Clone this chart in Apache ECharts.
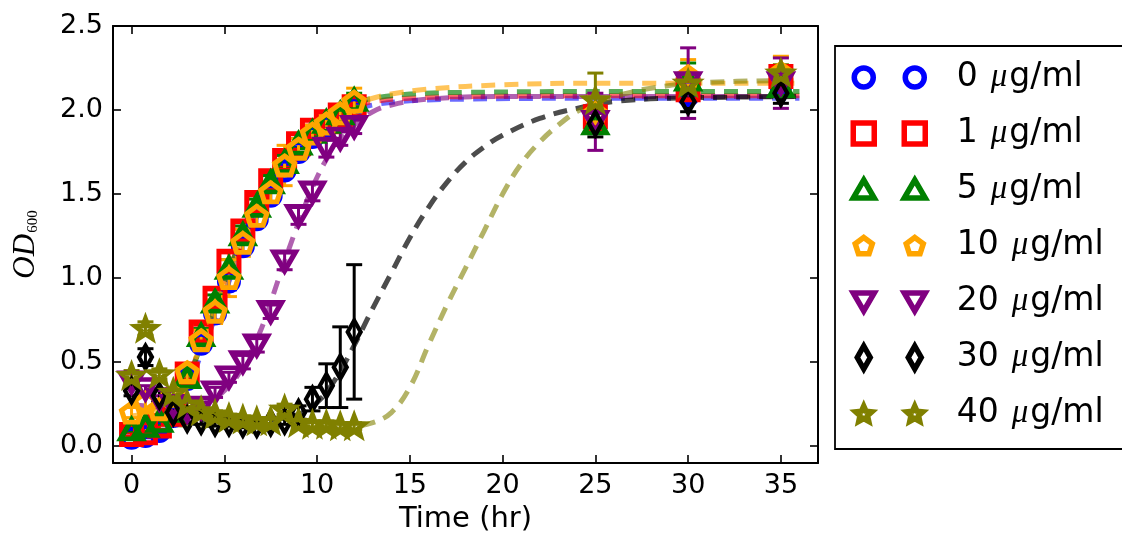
<!DOCTYPE html>
<html>
<head>
<meta charset="utf-8">
<script src="https://cdn.jsdelivr.net/npm/echarts@6/dist/echarts.min.js"></script>
<style>
  html, body { margin: 0; padding: 0; background: #ffffff; overflow: hidden; }
  #chart { width: 1122px; height: 543px; }
</style>
</head>
<body>
<div id="chart"></div>
<script>
// Growth curves (OD600) at increasing drug concentrations, with sigmoid fits.
const concentrations = ['0', '1', '5', '10', '20', '30', '40'];
const times = [0, 0.75, 1.5, 2.25, 3, 3.75, 4.5, 5.25, 6, 6.75, 7.5, 8.25, 9, 9.75, 10.5, 11.25, 12, 25, 30, 35];

const od0  = [0.05, 0.06, 0.09, 0.18, 0.40, 0.61, 0.79, 0.98, 1.19, 1.35, 1.49, 1.64, 1.75, 1.84, 1.90, 1.96, 2.01, 1.97, 2.09, 2.15];
const od1  = [0.07, 0.08, 0.12, 0.19, 0.43, 0.68, 0.88, 1.10, 1.28, 1.45, 1.58, 1.70, 1.80, 1.88, 1.93, 1.97, 2.02, 1.96, 2.12, 2.20];
const od5  = [0.10, 0.12, 0.15, 0.21, 0.41, 0.66, 0.86, 1.06, 1.26, 1.43, 1.57, 1.69, 1.80, 1.87, 1.93, 1.98, 2.06, 1.92, 2.18, 2.14];
const od10 = [0.20, 0.26, 0.22, 0.30, 0.44, 0.63, 0.80, 1.00, 1.21, 1.37, 1.51, 1.67, 1.77, 1.86, 1.92, 1.98, 2.05, 1.98, 2.20, 2.22];
const od20 = [0.38, 0.34, 0.28, 0.24, 0.21, 0.23, 0.32, 0.41, 0.50, 0.60, 0.80, 1.10, 1.37, 1.51, 1.77, 1.83, 1.90, 1.93, 2.16, 2.16];
const od30 = [0.33, 0.53, 0.30, 0.20, 0.16, 0.15, 0.14, 0.14, 0.13, 0.13, 0.14, 0.15, 0.20, 0.28, 0.36, 0.47, 0.68, 1.92, 2.05, 2.10];
const od40 = [0.42, 0.70, 0.43, 0.32, 0.25, 0.21, 0.19, 0.17, 0.16, 0.15, 0.15, 0.22, 0.14, 0.13, 0.13, 0.12, 0.12, 2.06, 2.16, 2.22];

const err0  = [0.01, 0.01, 0.01, 0.02, 0.03, 0.04, 0.04, 0.05, 0.04, 0.04, 0.04, 0.03, 0.03, 0.03, 0.03, 0.03, 0.03, 0.05, 0.04, 0.04];
const err1  = [0.01, 0.01, 0.02, 0.02, 0.03, 0.04, 0.05, 0.05, 0.05, 0.04, 0.04, 0.04, 0.03, 0.03, 0.03, 0.03, 0.03, 0.08, 0.06, 0.05];
const err5  = [0.01, 0.01, 0.02, 0.02, 0.03, 0.04, 0.04, 0.05, 0.05, 0.04, 0.04, 0.04, 0.03, 0.03, 0.03, 0.03, 0.04, 0.06, 0.10, 0.05];
const err10 = [0.03, 0.04, 0.03, 0.04, 0.05, 0.06, 0.07, 0.11, 0.08, 0.06, 0.06, 0.12, 0.06, 0.05, 0.05, 0.04, 0.08, 0.05, 0.10, 0.10];
const err20 = [0.02, 0.02, 0.02, 0.02, 0.02, 0.03, 0.03, 0.03, 0.04, 0.04, 0.04, 0.05, 0.05, 0.05, 0.05, 0.04, 0.04, 0.17, 0.21, 0.15];
const err30 = [0.03, 0.05, 0.03, 0.02, 0.02, 0.02, 0.02, 0.02, 0.02, 0.02, 0.02, 0.02, 0.04, 0.07, 0.13, 0.24, 0.40, 0.08, 0.06, 0.06];
const err40 = [0.03, 0.04, 0.03, 0.02, 0.02, 0.02, 0.02, 0.02, 0.02, 0.02, 0.02, 0.03, 0.02, 0.02, 0.02, 0.02, 0.02, 0.16, 0.05, 0.05];

// fitted curves, [time, OD] pairs
const fit0  = [[0,0.08],[1,0.10],[2,0.18],[3,0.35],[4,0.62],[5,0.91],[6,1.18],[7,1.42],[8,1.62],[9,1.77],[10,1.88],[11,1.95],[12,2.00],[13,2.03],[15,2.055],[18,2.065],[25,2.07],[36,2.07]];
const fit1  = [[0,0.08],[1,0.11],[2,0.20],[3,0.40],[4,0.68],[5,0.98],[6,1.25],[7,1.48],[8,1.66],[9,1.80],[10,1.90],[11,1.97],[12,2.02],[13,2.05],[15,2.07],[18,2.08],[25,2.085],[36,2.085]];
const fit5  = [[0,0.10],[1,0.13],[2,0.21],[3,0.40],[4,0.67],[5,0.97],[6,1.25],[7,1.48],[8,1.67],[9,1.81],[10,1.92],[11,1.99],[12,2.04],[13,2.07],[15,2.095],[18,2.105],[25,2.11],[36,2.11]];
const fit10 = [[0,0.18],[1,0.20],[2,0.25],[3,0.42],[4,0.67],[5,0.95],[6,1.21],[7,1.44],[8,1.63],[9,1.78],[10,1.90],[11,1.98],[12,2.03],[13,2.07],[14,2.095],[16,2.125],[20,2.15],[25,2.16],[36,2.16]];
const fit20 = [[0,0.25],[2,0.23],[3,0.23],[4,0.26],[5,0.33],[6,0.47],[7,0.70],[8,1.02],[9,1.33],[10,1.60],[11,1.79],[12,1.91],[13,1.99],[14,2.03],[16,2.065],[20,2.08],[36,2.08]];
const fit30 = [[0,0.14],[4,0.14],[7,0.15],[9,0.19],[10,0.26],[11,0.40],[12,0.60],[13,0.82],[14,1.03],[15,1.24],[16,1.42],[17,1.57],[18,1.69],[19,1.78],[20,1.85],[22,1.95],[24,2.01],[26,2.05],[29,2.07],[36,2.08]];
const fit40 = [[0,0.13],[6,0.12],[10,0.115],[12,0.12],[13,0.14],[14,0.20],[15,0.35],[16,0.60],[17,0.84],[18,1.06],[19,1.28],[20,1.50],[21,1.68],[22,1.81],[23,1.91],[24,1.99],[25,2.04],[26,2.08],[28,2.13],[31,2.165],[36,2.175]];

const xTicks = [0, 5, 10, 15, 20, 25, 30, 35];
const yTicks = [0, 0.5, 1.0, 1.5, 2.0, 2.5];

const odSets  = [od0, od1, od5, od10, od20, od30, od40];
const errSets = [err0, err1, err5, err10, err20, err30, err40];
const fitSets = [fit0, fit1, fit5, fit10, fit20, fit30, fit40];

const markerColors = ['#0000ff', '#ff0000', '#008000', '#ffa500', '#800080', '#000000', '#808000'];
const fitColors = ['rgba(0,0,255,0.58)', 'rgba(255,0,0,0.58)', 'rgba(0,128,0,0.65)', 'rgba(255,165,0,0.65)',
                   'rgba(128,0,128,0.62)', 'rgba(0,0,0,0.7)', 'rgba(128,128,0,0.6)'];

// ---- marker outlines (pixel units, centred on cx, cy) ----
function poly(pts, cx, cy) {
  return 'M' + pts.map(p => (cx + p[0]).toFixed(2) + ',' + (cy + p[1]).toFixed(2)).join('L') + 'Z';
}
function regular(n, r, startDeg) {
  const pts = [];
  for (let k = 0; k < n; k++) {
    const a = (startDeg + 360 * k / n) * Math.PI / 180;
    pts.push([r * Math.cos(a), r * Math.sin(a)]);
  }
  return pts;
}
function starPts(R, r) {
  const pts = [];
  for (let k = 0; k < 10; k++) {
    const a = (-90 + 36 * k) * Math.PI / 180;
    const rad = k % 2 === 0 ? R : r;
    pts.push([rad * Math.cos(a), rad * Math.sin(a)]);
  }
  return pts;
}
const shapes = [
  (cx, cy) => `M${cx - 9.5},${cy}A9.5,9.5,0,1,0,${cx + 9.5},${cy}A9.5,9.5,0,1,0,${cx - 9.5},${cy}Z`,
  (cx, cy) => poly([[-10.5, -10.5], [10.5, -10.5], [10.5, 10.5], [-10.5, 10.5]], cx, cy),
  (cx, cy) => poly([[0, -9.5], [10.5, 8.5], [-10.5, 8.5]], cx, cy),
  (cx, cy) => poly(regular(5, 9, -90), cx, cy + 1),
  (cx, cy) => poly([[-10.5, -8.5], [10.5, -8.5], [0, 9.5]], cx, cy),
  (cx, cy) => poly([[0, -11.5], [6.5, 0], [0, 11.5], [-6.5, 0]], cx, cy),
  (cx, cy) => poly(starPts(8.5, 4), cx, cy + 1)
];

// plot symbols and their sizes
const plotSymbols = [
  'circle',
  'rect',
  'triangle',
  'path://' + poly(regular(5, 1, -90), 0, 0),
  'path://' + poly([[-1, -1], [1, -1], [0, 1]], 0, 0),
  'diamond',
  'path://' + poly(starPts(1, 0.42), 0, 0)
];
const plotSizes = [[19, 19], [20, 20], [22, 19], [20, 19], [22, 19], [13, 23], [20, 19]];
const plotBorders = [5, 5, 5, 5, 5, 4.5, 5];

// legend icon: two markers side by side; the bare moveTo corners fix the box
function legendIcon(i) {
  return 'path://M0,0M77,26' + shapes[i](13, 13) + shapes[i](64, 13);
}

const names = concentrations.map(c => c + ' \u03bcg/ml');

const series = [];
// fitted curves underneath
fitSets.forEach((fit, i) => {
  series.push({
    type: 'line',
    name: names[i] + ' fit',
    data: fit,
    symbol: 'none',
    smooth: 0.4,
    silent: true,
    z: 2,
    lineStyle: { color: fitColors[i], width: 5, type: [14, 9], cap: 'butt' }
  });
});

// error bars then markers, one concentration at a time
odSets.forEach((vals, i) => {
  const color = markerColors[i];
  series.push({
    type: 'custom',
    name: names[i] + ' error',
    silent: true,
    clip: true,
    z: 3,
    data: times.map((t, k) => [t, vals[k], errSets[i][k]]),
    encode: { x: 0, y: 1 },
    renderItem(params, api) {
      const x = api.value(0), y = api.value(1), e = api.value(2);
      const top = api.coord([x, y + e]);
      const bot = api.coord([x, y - e]);
      const h = 8;
      const st = { stroke: color, lineWidth: 3 };
      return {
        type: 'group',
        children: [
          { type: 'line', shape: { x1: top[0], y1: top[1], x2: bot[0], y2: bot[1] }, style: st },
          { type: 'line', shape: { x1: top[0] - h, y1: top[1], x2: top[0] + h, y2: top[1] }, style: st },
          { type: 'line', shape: { x1: bot[0] - h, y1: bot[1], x2: bot[0] + h, y2: bot[1] }, style: st }
        ]
      };
    }
  });
  series.push({
    type: 'scatter',
    name: names[i],
    data: times.map((t, k) => [t, vals[k]]),
    symbol: plotSymbols[i],
    symbolSize: plotSizes[i],
    symbolKeepAspect: false,
    z: 3,
    itemStyle: { color: 'rgba(0,0,0,0)', borderColor: color, borderWidth: plotBorders[i], opacity: 1 },
    emphasis: { disabled: true }
  });
});

const axisFont = { fontFamily: 'DejaVu Sans', fontSize: 27, color: '#000' };
const frameLine = { show: true, onZero: false, lineStyle: { color: '#000', width: 2 } };
const tickStyle = { color: '#000', width: 1.6 };

const option = {
  animation: false,
  backgroundColor: '#ffffff',
  grid: { left: 113, top: 26, width: 705, height: 437, containLabel: false },
  // legend frame: top, left and bottom edges; the right side lies beyond the canvas
  graphic: [
    { type: 'line', silent: true, z: 0, shape: { x1: 835, y1: 46, x2: 1122, y2: 46 }, style: { stroke: '#000', lineWidth: 1.8 } },
    { type: 'line', silent: true, z: 0, shape: { x1: 835, y1: 45.1, x2: 835, y2: 449.9 }, style: { stroke: '#000', lineWidth: 1.8 } },
    { type: 'line', silent: true, z: 0, shape: { x1: 835, y1: 449, x2: 1122, y2: 449 }, style: { stroke: '#000', lineWidth: 1.8 } }
  ],
  xAxis: [
    {
      type: 'value', min: -1, max: 37, position: 'bottom',
      axisLine: frameLine,
      axisTick: { show: true, inside: true, length: 8, customValues: xTicks, lineStyle: tickStyle },
      axisLabel: Object.assign({ customValues: xTicks, margin: 9 }, axisFont),
      splitLine: { show: false },
      name: 'Time (hr)', nameLocation: 'middle', nameGap: 42,
      nameTextStyle: { fontFamily: 'DejaVu Sans', fontSize: 29, color: '#000' }
    },
    {
      type: 'value', min: -1, max: 37, position: 'top',
      axisLine: frameLine,
      axisTick: { show: true, inside: true, length: 8, customValues: xTicks, lineStyle: tickStyle },
      axisLabel: { show: false },
      splitLine: { show: false }
    }
  ],
  yAxis: [
    {
      type: 'value', min: -0.1, max: 2.5, position: 'left',
      axisLine: frameLine,
      axisTick: { show: true, inside: true, length: 8, customValues: yTicks, lineStyle: tickStyle },
      axisLabel: Object.assign({ customValues: yTicks, margin: 10, formatter: v => v.toFixed(1) }, axisFont),
      splitLine: { show: false },
      name: '{i|OD}{s|600}', nameLocation: 'middle', nameGap: 72,
      nameTextStyle: {
        rich: {
          i: { fontFamily: 'Liberation Serif', fontStyle: 'italic', fontSize: 31, color: '#000', lineHeight: 30 },
          s: { fontFamily: 'Liberation Serif', fontSize: 15, color: '#000', lineHeight: 15, verticalAlign: 'bottom', padding: [0, 0, 0, 1] }
        }
      }
    },
    {
      type: 'value', min: -0.1, max: 2.5, position: 'right',
      axisLine: frameLine,
      axisTick: { show: true, inside: true, length: 8, customValues: yTicks, lineStyle: tickStyle },
      axisLabel: { show: false },
      splitLine: { show: false }
    }
  ],
  legend: {
    orient: 'vertical',
    left: 835, top: 46,
    padding: [15, 0, 20, 13],
    itemWidth: 77, itemHeight: 26, itemGap: 23,
    borderWidth: 0,
    backgroundColor: 'transparent',
    selectedMode: false,
    formatter: name => '{n|' + name.split(' ')[0] + '}{m|\u03bc}{u|g/ml}',
    textStyle: {
      rich: {
        n: { fontFamily: 'DejaVu Sans', fontSize: 33, color: '#000', lineHeight: 26, padding: [0, 0, 0, 24] },
        m: { fontFamily: 'Liberation Serif', fontStyle: 'italic', fontSize: 33, color: '#000', lineHeight: 26, padding: [0, 2, 0, 13] },
        u: { fontFamily: 'DejaVu Sans', fontSize: 33, color: '#000', lineHeight: 26 }
      }
    },
    data: names.map((n, i) => ({
      name: n,
      icon: legendIcon(i),
      itemStyle: { color: 'rgba(0,0,0,0)', borderColor: markerColors[i], borderWidth: 5.5 }
    }))
  },
  series: series
};

const chart = echarts.init(document.getElementById('chart'), null, { renderer: 'canvas' });
chart.setOption(option);
</script>
</body>
</html>
